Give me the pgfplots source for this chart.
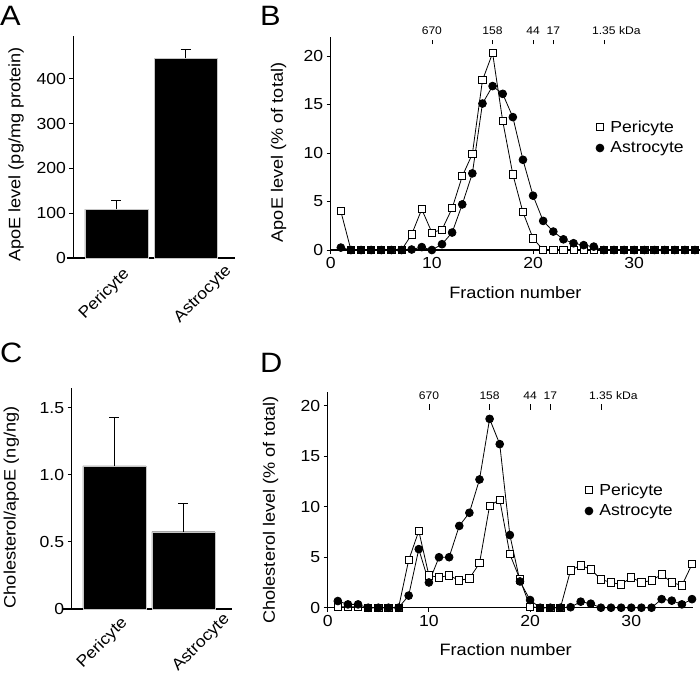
\documentclass[border=0pt]{standalone}
\usepackage{pgfplots}
\pgfplotsset{compat=1.18}
\usepackage{pgfplotstable}
\usepackage{fontspec}
\setmainfont{Liberation Sans}[FakeStretch=1.1]

\pgfplotstableread{
x peri astro
1 4.0 0.25
2 0 0
3 0 0
4 0 0
5 0 0
6 0 0
7 0 0
8 1.6 0.05
9 4.2 0.3
10 1.8 0
11 2.1 0.6
12 4.3 1.8
13 7.6 4.7
14 9.9 7.9
15 17.5 15.1
16 20.3 16.9
17 13.3 16.1
18 7.8 13.7
19 3.9 9.3
20 1.2 5.6
21 0 3.0
22 0 1.9
23 0 1.1
24 0 0.7
25 0 0.5
26 0 0.35
27 0 0
28 0 0
29 0 0
30 0 0
31 0 0
32 0 0
33 0 0
34 0 0
35 0 0
36 0 0
}\apoe

\pgfplotstableread{
x peri astro
1 0.1 0.66
2 0.1 0.33
3 0.1 0.33
4 0 0
5 0 0
6 0 0
7 0 0
8 4.7 1.2
9 7.6 5.8
10 3.2 2.5
11 3.0 5.0
12 3.2 5.0
13 2.7 8.1
14 2.9 9.4
15 4.4 12.7
16 10.1 18.7
17 10.7 16.2
18 5.3 7.2
19 2.8 2.6
20 0.1 0.76
21 0 0
22 0 0
23 0 0
24 3.7 0.05
25 4.2 0.6
26 3.8 0.4
27 2.8 0
28 2.5 0
29 2.3 0
30 3.0 0
31 2.5 0
32 2.7 0
33 3.3 0.85
34 2.5 0.7
35 2.2 0.33
36 4.3 0.85
}\chol

\newcommand{\lblfont}{\fontsize{16.5}{19}\selectfont}
\newcommand{\tckfont}{\fontsize{16}{18}\selectfont}
\newcommand{\annfont}{\fontsize{11}{12}\selectfont}

\pgfplotsset{
  base/.style={
    scale only axis, clip=false,
    axis x line*=bottom, axis y line*=left,
    tick align=outside, major tick length=4pt,
    every tick/.style={black, line width=1pt},
    axis line style={line width=1.1pt, black},
    /pgf/number format/assume math mode=true,
    tick label style={font=\tckfont},
    minor tick num=0,
  },
  barax/.style={
    base, ymin=0,
    xtick style={draw=none},
  },
  lineax/.style={
    base, xmin=0, ymin=0, xtick={0,10,20,30}, ytick={0,5,10,15,20},
    xlabel={Fraction number},
    legend cell align=left,
    legend image code/.code={\draw[##1] plot coordinates {(0pt,0pt)};},
    legend style={draw=none, fill=none, anchor=north west, inner sep=0pt,
      font=\tckfont, row sep=5pt,
      nodes={inner sep=1.5pt},
      /tikz/every odd column/.append style={column sep=5pt}},
  },
  peri/.style={black, line width=0.8pt, mark=square*, mark size=3.6pt,
    mark options={fill=white, draw=black, line width=0.8pt}},
  astro/.style={black, line width=0.8pt, mark=*, mark size=3.9pt,
    mark options={fill=black, draw=black}},
  bars/.style={ybar, bar width=63pt, fill=black, draw=gray!45,
    error bars/.cd, y dir=plus, y explicit,
    error bar style={line width=1pt, black},
    error mark options={rotate=90, mark size=5pt, line width=1pt, black}},
}

\begin{document}
\begin{tikzpicture}
\useasboundingbox (0pt,0pt) rectangle (700pt,-678pt);

% ---------- A ----------
\begin{axis}[barax, at={(73.5pt,-258pt)}, anchor=south west,
  width=161.5pt, height=221.8pt,
  xmin=-0.623, xmax=1.717, ymax=495,
  ytick={0,100,200,300,400},
  xtick={-0.174,1.254}, xticklabels={Pericyte,Astrocyte},
  xticklabel style={yshift=-32.5pt, rotate=45, anchor=center},
  x axis line style={shorten <=-6.5pt},
  ylabel={ApoE level (pg/mg protein)},
  every axis y label/.style={at={(axis description cs:0,0.467)}, xshift=-57.5pt, rotate=90, anchor=center, font=\lblfont},
]
\addplot[bars] coordinates {(0,109) +- (0,20) (1,446) +- (0,20)};
\end{axis}
\node[anchor=north west, inner sep=0pt, font=\fontsize{28}{30}\selectfont] at (0pt,-6pt) {A};

% ---------- C ----------
\begin{axis}[barax, at={(71.7pt,-609pt)}, anchor=south west,
  width=160.3pt, height=221.4pt,
  xmin=-0.62, xmax=1.703, ymax=1.65,
  ytick={0,0.5,1.0,1.5}, yticklabels={0,0.5,1.0,1.5},
  xtick={-0.174,1.26}, xticklabels={Pericyte,Astrocyte},
  xticklabel style={yshift=-30pt, rotate=45, anchor=center},
  x axis line style={shorten <=-8.7pt},
  ylabel={Cholesterol/apoE (ng/ng)},
  every axis y label/.style={at={(axis description cs:0,0.459)}, xshift=-60.4pt, rotate=90, anchor=center, font=\lblfont},
]
\addplot[bars] coordinates {(0,1.066) +- (0,0.364) (1,0.576) +- (0,0.214)};
\end{axis}
\node[anchor=north west, inner sep=0pt, font=\fontsize{28}{30}\selectfont] at (0pt,-343pt) {C};

% ---------- B ----------
\begin{axis}[lineax, at={(330.7pt,-250pt)}, anchor=south west,
  width=369.3pt, height=213.4pt, xmax=36.5, ymax=22,
  ylabel={ApoE level (\% of total)},
  every axis y label/.style={at={(axis description cs:0,0.457)}, xshift=-52.2pt, rotate=90, anchor=center, font=\lblfont},
  every axis x label/.style={at={(axis description cs:0.5,0)}, yshift=-48pt, anchor=base, font=\lblfont},
  legend style={at={(rel axis cs:0.718,0.614)}},
]
\addplot[peri] table[x=x, y=peri] {\apoe};
\addlegendentry{Pericyte}
\addplot[astro] table[x=x, y=astro] {\apoe};
\addlegendentry{Astrocyte}
\draw[line width=0.7pt] (axis cs:10,21.2) -- (axis cs:10,21.7);
\draw[line width=0.7pt] (axis cs:16,21.2) -- (axis cs:16,21.7);
\draw[line width=0.7pt] (axis cs:20,21.2) -- (axis cs:20,21.7);
\draw[line width=0.7pt] (axis cs:22,21.2) -- (axis cs:22,21.7);
\draw[line width=0.7pt] (axis cs:27,21.2) -- (axis cs:27,21.7);
\node[font=\annfont, anchor=base] at (axis cs:10,22.2) {670};
\node[font=\annfont, anchor=base] at (axis cs:16,22.2) {158};
\node[font=\annfont, anchor=base] at (axis cs:20,22.2) {44};
\node[font=\annfont, anchor=base] at (axis cs:22,22.2) {17};
\node[font=\annfont, anchor=base] at (axis cs:27,22.2) {1.35\rlap{ kDa}};
\end{axis}
\node[anchor=north west, inner sep=0pt, font=\fontsize{28}{30}\selectfont] at (260pt,-6pt) {B};

% ---------- D ----------
\begin{axis}[lineax, at={(327.7pt,-607.7pt)}, anchor=south west,
  width=365.3pt, height=216.1pt, xmax=36.1, ymax=21.4,
  ylabel={Cholesterol level (\% of total)},
  every axis y label/.style={at={(axis description cs:0,0.452)}, xshift=-57.2pt, rotate=90, anchor=center, font=\lblfont},
  every axis x label/.style={at={(axis description cs:0.487,0)}, yshift=-47.3pt, anchor=base, font=\lblfont},
  legend style={at={(rel axis cs:0.704,0.582)}},
]
\addplot[peri] table[x=x, y=peri] {\chol};
\addlegendentry{Pericyte}
\addplot[astro] table[x=x, y=astro] {\chol};
\addlegendentry{Astrocyte}
\draw[line width=0.7pt] (axis cs:10,19.6) -- (axis cs:10,20.2);
\draw[line width=0.7pt] (axis cs:16,19.6) -- (axis cs:16,20.2);
\draw[line width=0.7pt] (axis cs:20,19.6) -- (axis cs:20,20.2);
\draw[line width=0.7pt] (axis cs:22,19.6) -- (axis cs:22,20.2);
\draw[line width=0.7pt] (axis cs:27,19.6) -- (axis cs:27,20.2);
\node[font=\annfont, anchor=base] at (axis cs:10,20.6) {670};
\node[font=\annfont, anchor=base] at (axis cs:16,20.6) {158};
\node[font=\annfont, anchor=base] at (axis cs:20,20.6) {44};
\node[font=\annfont, anchor=base] at (axis cs:22,20.6) {17};
\node[font=\annfont, anchor=base] at (axis cs:27,20.6) {1.35\rlap{ kDa}};
\end{axis}
\node[anchor=north west, inner sep=0pt, font=\fontsize{28}{30}\selectfont] at (260pt,-353pt) {D};

\end{tikzpicture}
\end{document}
